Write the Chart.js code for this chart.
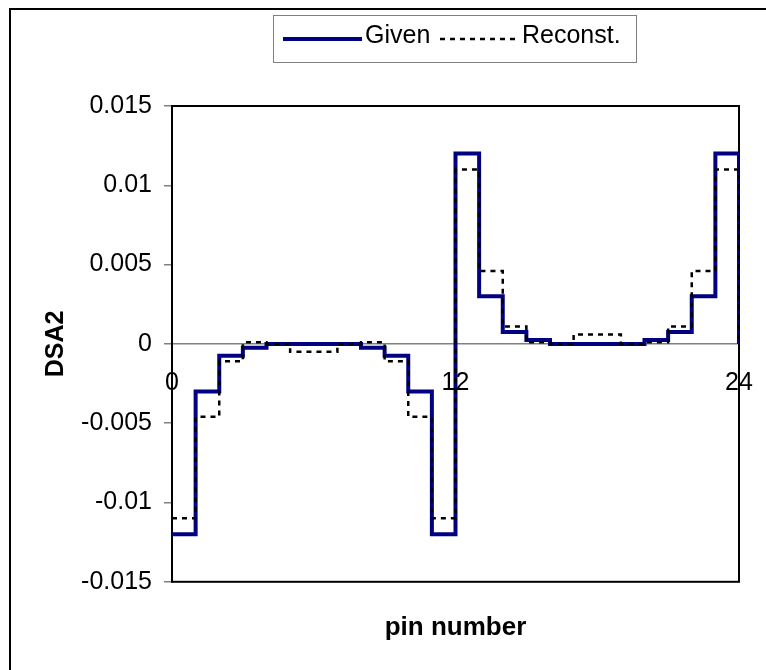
<!DOCTYPE html>
<html>
<head>
<meta charset="utf-8">
<title>DSA2 by pin</title>
<script src="https://cdn.jsdelivr.net/npm/chart.js@4.4.1/dist/chart.umd.min.js"></script>
<style>
  html, body { margin: 0; padding: 0; background: #fff; overflow: hidden; }
  #chartBox { width: 766px; height: 670px; }
</style>
</head>
<body>
<div id="chartBox">
  <canvas id="dsaChart" width="766" height="670"></canvas>
</div>
<script>
// DSA2 per pin interval, value holds from pin i to pin i+1
const givenDSA2 = [
  -0.012, -0.003, -0.00075, -0.00025, 0, 0, 0, 0, -0.00025, -0.00075, -0.003, -0.012,
  0.012, 0.003, 0.00075, 0.00025, 0, 0, 0, 0, 0.00025, 0.00075, 0.003, 0.012
];
const reconstDSA2 = [
  -0.011, -0.0046, -0.0011, 0.0001, 0, -0.0005, -0.0005, 0, 0.0001, -0.0011, -0.0046, -0.011,
  0.011, 0.0046, 0.0011, 0.0001, 0, 0.0006, 0.0006, 0, 0.0001, 0.0011, 0.0046, 0.011
];
const seriesNames = ["Given", "Reconst."];
const xTicks = [0, 12, 24];
const yTicks = [-0.015, -0.01, -0.005, 0, 0.005, 0.01, 0.015];

const FONT = "'Liberation Sans', Arial, Helvetica, sans-serif";
Chart.defaults.font.family = FONT;
Chart.defaults.color = "#000";

// turn the per-interval values into step points, closing back to zero at the last pin
function toSteps(values) {
  const pts = values.map((v, i) => ({ x: i, y: v }));
  pts.push({ x: values.length, y: 0 });
  return pts;
}

// outer frame, plot box and the boxed legend
const framePlugin = {
  id: "frame",
  beforeDatasetsDraw(chart) {
    const { ctx, chartArea: a } = chart;
    ctx.save();
    ctx.strokeStyle = "#000";
    ctx.lineWidth = 2;
    ctx.strokeRect(10, 9, 800, 700);
    ctx.strokeRect(a.left, a.top, a.right - a.left, a.bottom - a.top);

    // legend box
    ctx.lineWidth = 1;
    ctx.strokeStyle = "#808080";
    ctx.strokeRect(273.5, 15.5, 363, 47);

    const items = [
      { ds: chart.data.datasets[0], x0: 283, x1: 362, tx: 365 },
      { ds: chart.data.datasets[1], x0: 440, x1: 518, tx: 522 }
    ];
    ctx.font = "25px " + FONT;
    ctx.textBaseline = "middle";
    ctx.fillStyle = "#000";
    items.forEach(it => {
      ctx.beginPath();
      ctx.strokeStyle = it.ds.borderColor;
      ctx.lineWidth = it.ds.borderWidth;
      ctx.setLineDash(it.ds.borderDash || []);
      ctx.moveTo(it.x0, 39);
      ctx.lineTo(it.x1, 39);
      ctx.stroke();
      ctx.setLineDash([]);
      ctx.fillText(it.ds.label, it.tx, 36);
    });
    ctx.restore();
  }
};

const data = {
  datasets: [
    {
      label: seriesNames[0],
      data: toSteps(givenDSA2),
      borderColor: "#000080",
      borderWidth: 4,
      stepped: "before",
      pointRadius: 0,
      fill: false,
      order: 2
    },
    {
      label: seriesNames[1],
      data: toSteps(reconstDSA2),
      borderColor: "#000",
      borderWidth: 2.5,
      borderDash: [5, 5],
      stepped: "before",
      pointRadius: 0,
      fill: false,
      order: 1
    }
  ]
};

const config = {
  type: "line",
  data,
  options: {
    responsive: false,
    animation: false,
    devicePixelRatio: 1,
    layout: { padding: { left: 0, right: 27, top: 106, bottom: 0 } },
    plugins: {
      legend: { display: false },
      tooltip: { enabled: false },
      title: {
        display: true,
        text: "pin number",
        position: "bottom",
        fullSize: false,
        color: "#000",
        font: { size: 26, weight: "bold" },
        padding: { top: 30, bottom: 27 }
      }
    },
    scales: {
      x: {
        type: "linear",
        position: { y: 0 },
        min: xTicks[0],
        max: xTicks[xTicks.length - 1],
        afterBuildTicks: (s) => { s.ticks = xTicks.map(v => ({ value: v })); },
        afterFit: (s) => { s.paddingLeft = 0; s.paddingRight = 0; },
        ticks: {
          color: "#000",
          font: { size: 25 },
          padding: 24,
          maxRotation: 0,
          autoSkip: false
        },
        grid: { display: false, drawTicks: false },
        border: { display: true, color: "#808080", width: 1.5 }
      },
      y: {
        type: "linear",
        min: yTicks[0],
        max: yTicks[yTicks.length - 1],
        afterBuildTicks: (s) => { s.ticks = yTicks.map(v => ({ value: v })); },
        afterFit: (s) => { s.width = 172; },
        ticks: {
          color: "#000",
          font: { size: 25 },
          padding: 12,
          callback: (v) => String(Number(v.toFixed(3)))
        },
        grid: {
          drawOnChartArea: false,
          drawTicks: true,
          tickLength: 8,
          color: "#808080",
          lineWidth: 1.5
        },
        border: { display: true, color: "#000", width: 2 },
        title: {
          display: true,
          text: "DSA2",
          color: "#000",
          font: { size: 25, weight: "bold" },
          padding: { top: 41, bottom: 0 }
        }
      }
    }
  },
  plugins: [framePlugin]
};

const myChart = new Chart(document.getElementById("dsaChart"), config);
</script>
</body>
</html>
